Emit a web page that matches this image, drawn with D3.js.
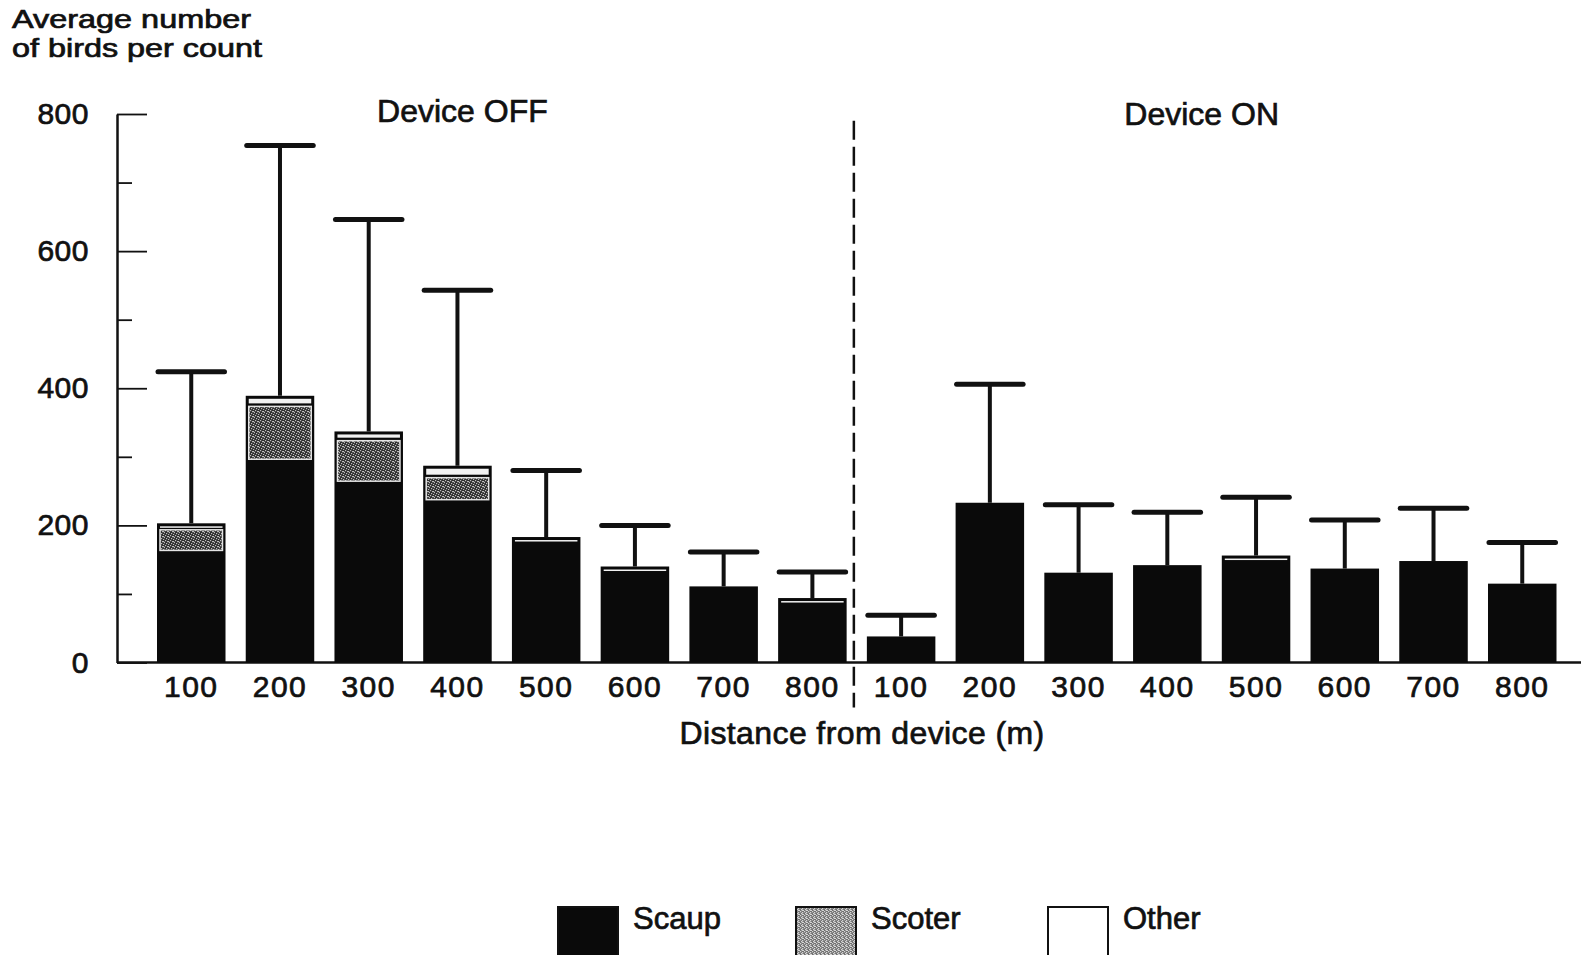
<!DOCTYPE html>
<html>
<head>
<meta charset="utf-8">
<script src="https://cdn.jsdelivr.net/npm/d3@7"></script>
<style>
  body { margin: 0; background: #fff; }
  text { font-family: "Liberation Sans", Arial, Helvetica, sans-serif; fill: #111; stroke: #111; stroke-width: 0.7px; }
</style>
</head>
<body>
<div id="chart"></div>
<script>
// Distance classes (m), same for both panels
const distances = [100, 200, 300, 400, 500, 600, 700, 800];
const panels = ['Device OFF', 'Device ON'];

// Average birds per count
const scaupOff = [162, 295, 263, 236, 175, 131, 111, 88];
const scoterOff = [33, 80, 62, 35, 0, 0, 0, 0];
const otherOff = [8, 14, 12, 16, 8, 9, 0, 6];
const errTopOff = [424, 754, 646, 543, 280, 200, 161, 132];

const scaupOn = [38, 233, 131, 142, 149, 137, 148, 115];
const scoterOn = [0, 0, 0, 0, 0, 0, 0, 0];
const otherOn = [0, 0, 0, 0, 7, 0, 0, 0];
const errTopOn = [69, 406, 230, 219, 241, 208, 225, 175];

const yTicks = [0, 100, 200, 300, 400, 500, 600, 700, 800];
const yLabels = [0, 200, 400, 600, 800];
const speciesNames = ['Scaup', 'Scoter', 'Other'];

const width = 1581;
const height = 955;

const rows = [];
distances.forEach((d, i) => rows.push({
  key: 'OFF-' + d, dist: d, scaup: scaupOff[i], scoter: scoterOff[i], other: otherOff[i], err: errTopOff[i]
}));
distances.forEach((d, i) => rows.push({
  key: 'ON-' + d, dist: d, scaup: scaupOn[i], scoter: scoterOn[i], other: otherOn[i], err: errTopOn[i]
}));
rows.forEach(r => { r.total = r.scaup + r.scoter + r.other; });

const svg = d3.select('#chart').append('svg')
  .attr('width', width)
  .attr('height', height);

svg.append('rect').attr('width', width).attr('height', height).attr('fill', '#fff');

// stipple texture for scoter
const defs = svg.append('defs');
const pat = defs.append('pattern')
  .attr('id', 'stipple')
  .attr('patternUnits', 'userSpaceOnUse')
  .attr('width', 5).attr('height', 5);
pat.append('rect').attr('width', 5).attr('height', 5).attr('fill', '#2e2e2e');
[[0, 0], [2, 1], [4, 2], [1, 3], [3, 4], [3, 1]].forEach(p => {
  pat.append('rect').attr('x', p[0]).attr('y', p[1]).attr('width', 1.2).attr('height', 1.2).attr('fill', '#bdbdbd');
});
const patL = defs.append('pattern')
  .attr('id', 'stippleLight')
  .attr('patternUnits', 'userSpaceOnUse')
  .attr('width', 4).attr('height', 4);
patL.append('rect').attr('width', 4).attr('height', 4).attr('fill', '#707070');
[[0, 0], [2, 1], [1, 2], [3, 3], [2, 3]].forEach(p => {
  patL.append('rect').attr('x', p[0]).attr('y', p[1]).attr('width', 1.3).attr('height', 1.3).attr('fill', '#d4d4d4');
});

// Scales
const x = d3.scaleBand()
  .domain(rows.map(r => r.key))
  .range([157, 1556.5])
  .paddingInner(0.228)
  .paddingOuter(0);

const y = d3.scaleLinear()
  .domain([0, 800])
  .range([662.5, 114]);

const axisX = 117;
const bw = x.bandwidth();

// Y axis, ticks pointing inward
const yAxis = svg.append('g')
  .attr('transform', 'translate(' + axisX + ',0)')
  .call(d3.axisLeft(y).tickValues(yTicks).tickSizeInner(-30).tickSizeOuter(0).tickPadding(28)
    .tickFormat(d => yLabels.includes(d) ? d : ''));
yAxis.select('.domain').attr('stroke', '#111').attr('stroke-width', 2.5);
yAxis.selectAll('.tick line')
  .attr('x2', d => yLabels.includes(d) ? 30 : 15)
  .attr('stroke', '#111').attr('stroke-width', 1.8);
yAxis.selectAll('.tick text')
  .attr('font-size', 30)
  .attr('letter-spacing', 0.5)
  .attr('font-family', null);

// X axis labels
const xAxis = svg.append('g')
  .attr('transform', 'translate(0,' + y(0) + ')')
  .call(d3.axisBottom(x).tickSize(0).tickPadding(13).tickFormat(k => k.split('-')[1]));
xAxis.select('.domain').remove();
xAxis.selectAll('.tick text')
  .attr('font-size', 30)
  .attr('letter-spacing', 1.5)
  .attr('font-family', null);

// baseline
svg.append('line')
  .attr('x1', axisX).attr('x2', width)
  .attr('y1', y(0)).attr('y2', y(0))
  .attr('stroke', '#111').attr('stroke-width', 2.5);

// Bars
const bars = svg.append('g').selectAll('g.bar')
  .data(rows)
  .join('g')
  .attr('class', 'bar');

bars.append('rect')
  .attr('x', d => x(d.key))
  .attr('y', d => y(d.total))
  .attr('width', bw)
  .attr('height', d => y(0) - y(d.total))
  .attr('fill', '#0a0a0a');

bars.filter(d => d.other > 0).append('rect')
  .attr('x', d => x(d.key) + 3)
  .attr('y', d => y(d.total) + 3)
  .attr('width', bw - 6)
  .attr('height', d => Math.max(1.5, y(d.scaup + d.scoter) - y(d.total) - 5))
  .attr('fill', '#f2f2f2');

bars.filter(d => d.scoter > 0).append('rect')
  .attr('x', d => x(d.key) + 3)
  .attr('y', d => y(d.scaup + d.scoter) + 1)
  .attr('width', bw - 6)
  .attr('height', d => y(d.scaup) - y(d.scaup + d.scoter) - 2)
  .attr('fill', 'url(#stipple)')
  .attr('stroke', '#e4e4e4')
  .attr('stroke-width', 1.5);

// Error bars
bars.append('line')
  .attr('x1', d => x(d.key) + bw / 2)
  .attr('x2', d => x(d.key) + bw / 2)
  .attr('y1', d => y(d.total))
  .attr('y2', d => y(d.err))
  .attr('stroke', '#111')
  .attr('stroke-width', 4);

bars.append('line')
  .attr('x1', d => x(d.key) + 1)
  .attr('x2', d => x(d.key) + bw - 1)
  .attr('y1', d => y(d.err))
  .attr('y2', d => y(d.err))
  .attr('stroke', '#111')
  .attr('stroke-width', 5)
  .attr('stroke-linecap', 'round');

// Dashed divider between panels
const divX = x('ON-100') - 13;
svg.append('line')
  .attr('x1', divX).attr('x2', divX)
  .attr('y1', y(790)).attr('y2', y(0) + 45)
  .attr('stroke', '#111')
  .attr('stroke-width', 2.5)
  .attr('stroke-dasharray', '19 7');

// Panel labels
svg.append('text')
  .attr('x', x('OFF-400') + bw / 2 + 5)
  .attr('y', 122)
  .attr('text-anchor', 'middle')
  .attr('font-size', 32)
  .text(panels[0]);
svg.append('text')
  .attr('x', (x('ON-100') + x('ON-800') + bw) / 2 - 10)
  .attr('y', 125)
  .attr('text-anchor', 'middle')
  .attr('font-size', 32)
  .text(panels[1]);

// Axis titles
svg.append('text')
  .attr('x', 12)
  .attr('y', 28)
  .attr('font-size', 25)
  .attr('textLength', 239)
  .attr('lengthAdjust', 'spacingAndGlyphs')
  .text('Average number');
svg.append('text')
  .attr('x', 12)
  .attr('y', 56.5)
  .attr('font-size', 25)
  .attr('textLength', 250)
  .attr('lengthAdjust', 'spacingAndGlyphs')
  .text('of birds per count');

svg.append('text')
  .attr('x', 862)
  .attr('y', 744)
  .attr('text-anchor', 'middle')
  .attr('font-size', 32)
  .attr('letter-spacing', 0.4)
  .text('Distance from device (m)');

// Legend
const legendX = [558, 796, 1048];
const legendFill = ['#0a0a0a', 'url(#stippleLight)', '#fff'];
const legend = svg.append('g').selectAll('g')
  .data(speciesNames)
  .join('g')
  .attr('transform', (d, i) => 'translate(' + legendX[i] + ',907)');
legend.append('rect')
  .attr('width', 60)
  .attr('height', 60)
  .attr('fill', (d, i) => legendFill[i])
  .attr('stroke', '#111')
  .attr('stroke-width', 2);
legend.append('text')
  .attr('x', 75)
  .attr('y', 22)
  .attr('font-size', 31)
  .text(d => d);
</script>
</body>
</html>
